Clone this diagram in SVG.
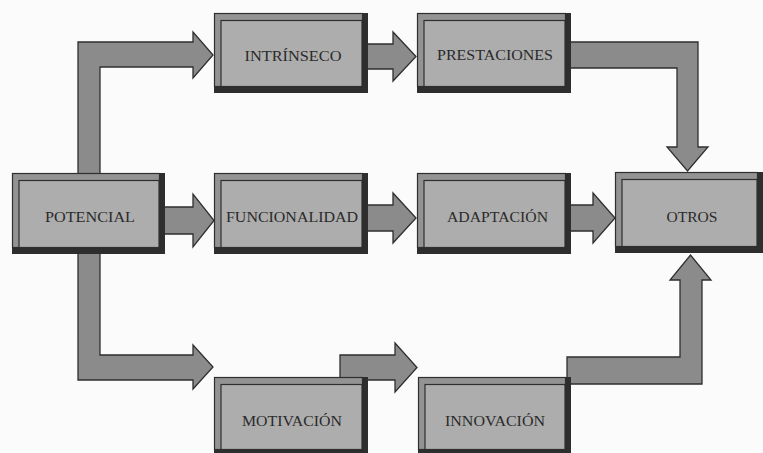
<svg xmlns="http://www.w3.org/2000/svg" width="763" height="453" viewBox="0 0 763 453">
  <style>
    .bg { fill: #fbfbfb; }
    .arrow { fill: #8b8b8b; stroke: #2f2f2f; stroke-width: 1.3; stroke-linejoin: miter; }
    .shadow { fill: #2e2e2e; }
    .band { fill: #939393; stroke: #2f2f2f; stroke-width: 1.2; }
    .inner { fill: #adadad; stroke: #2f2f2f; stroke-width: 1.2; }
    .label { font-family: "Liberation Serif", "Times New Roman", serif; font-size: 15px; fill: #2a2a2a; text-anchor: middle; }
  </style>
  <rect class="bg" x="0" y="0" width="763" height="453"/>

  <g id="connectors">
    <!-- POTENCIAL -> INTRINSECO -->
    <polygon class="arrow" points="78,176 78,42 193,42 193,32 213,55 193,78 193,67 100,67 100,176"/>
    <!-- INTRINSECO -> PRESTACIONES -->
    <polygon class="arrow" points="366,44 393,44 393,32 416,56.5 393,81 393,69 366,69"/>
    <!-- PRESTACIONES -> OTROS -->
    <polygon class="arrow" points="569,42 698,42 698,147 708,147 687.5,171 667,147 677,147 677,68 569,68"/>
    <!-- POTENCIAL -> FUNCIONALIDAD -->
    <polygon class="arrow" points="163,207 193,207 193,194 214,220.5 193,247 193,234 163,234"/>
    <!-- FUNCIONALIDAD -> ADAPTACION -->
    <polygon class="arrow" points="366,205 393,205 393,193 416,218 393,243 393,231 366,231"/>
    <!-- ADAPTACION -> OTROS -->
    <polygon class="arrow" points="569,205 593,205 593,193 615,218 593,243 593,231 569,231"/>
    <!-- POTENCIAL -> MOTIVACION -->
    <polygon class="arrow" points="78,251 100,251 100,355 193,355 193,345 213,367 193,389 193,380 78,380"/>
    <!-- MOTIVACION -> INNOVACION -->
    <polygon class="arrow" points="340,380 340,355 395,355 395,343 417,367.5 395,392 395,380"/>
    <!-- INNOVACION -> OTROS -->
    <polygon class="arrow" points="567,384 567,357 680,357 680,280 670,280 690.5,255 711,280 702,280 702,384"/>
  </g>

  <g id="potencial">
    <rect class="shadow" x="12" y="173" width="153" height="81"/>
    <rect class="band" x="12.5" y="173.5" width="147" height="74"/>
    <rect class="inner" x="19" y="180.5" width="140" height="67"/>
    <text class="label" x="90" y="222" textLength="90" lengthAdjust="spacingAndGlyphs">POTENCIAL</text>
  </g>

  <g id="intrinseco">
    <rect class="shadow" x="214" y="13" width="154" height="80"/>
    <rect class="band" x="214.5" y="13.5" width="148" height="73"/>
    <rect class="inner" x="221" y="20.5" width="141" height="66"/>
    <text class="label" x="293" y="61" textLength="97" lengthAdjust="spacingAndGlyphs">INTRÍNSECO</text>
  </g>

  <g id="prestaciones">
    <rect class="shadow" x="417" y="13" width="154" height="80"/>
    <rect class="band" x="417.5" y="13.5" width="148" height="73"/>
    <rect class="inner" x="424" y="20.5" width="141" height="66"/>
    <text class="label" x="495" y="60" textLength="116" lengthAdjust="spacingAndGlyphs">PRESTACIONES</text>
  </g>

  <g id="funcionalidad">
    <rect class="shadow" x="214" y="173" width="154" height="81"/>
    <rect class="band" x="214.5" y="173.5" width="148" height="74"/>
    <rect class="inner" x="221" y="180.5" width="141" height="67"/>
    <text class="label" x="292" y="222" textLength="132" lengthAdjust="spacingAndGlyphs">FUNCIONALIDAD</text>
  </g>

  <g id="adaptacion">
    <rect class="shadow" x="417" y="173" width="154" height="81"/>
    <rect class="band" x="417.5" y="173.5" width="148" height="74"/>
    <rect class="inner" x="424" y="180.5" width="141" height="67"/>
    <text class="label" x="497.5" y="222" textLength="101" lengthAdjust="spacingAndGlyphs">ADAPTACIÓN</text>
  </g>

  <g id="otros">
    <rect class="shadow" x="615" y="172" width="148" height="81"/>
    <rect class="band" x="615.5" y="172.5" width="142" height="74"/>
    <rect class="inner" x="622" y="179.5" width="135" height="67"/>
    <text class="label" x="692" y="222" textLength="51" lengthAdjust="spacingAndGlyphs">OTROS</text>
  </g>

  <g id="motivacion">
    <rect class="shadow" x="214" y="377" width="154" height="79"/>
    <rect class="band" x="214.5" y="377.5" width="148" height="72"/>
    <rect class="inner" x="221" y="384.5" width="141" height="65"/>
    <text class="label" x="292" y="426" textLength="100" lengthAdjust="spacingAndGlyphs">MOTIVACIÓN</text>
  </g>

  <g id="innovacion">
    <rect class="shadow" x="418" y="377" width="153" height="79"/>
    <rect class="band" x="418.5" y="377.5" width="147" height="72"/>
    <rect class="inner" x="425" y="384.5" width="140" height="65"/>
    <text class="label" x="495" y="426" textLength="100" lengthAdjust="spacingAndGlyphs">INNOVACIÓN</text>
  </g>
</svg>
